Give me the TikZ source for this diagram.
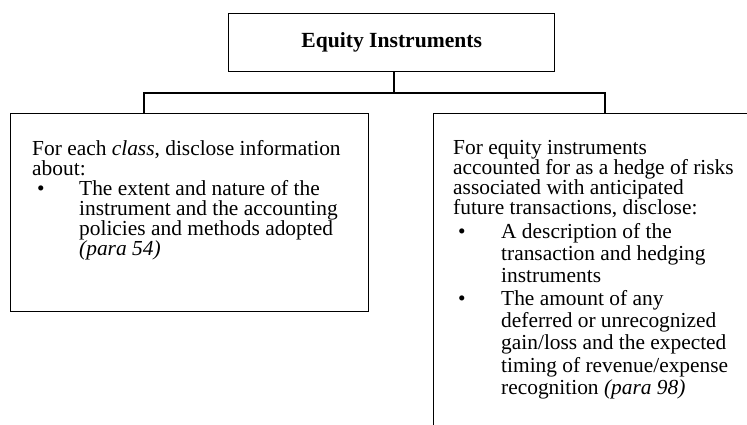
\documentclass[tikz,border=0pt]{standalone}
\usepackage{fontspec}
\setmainfont{Liberation Serif}
\newcommand{\bul}[1]{\makebox[#1][l]{\hspace{5pt}\textbullet}}
\tikzset{
  boxshape/.style={draw, line width=1.4pt, inner sep=0pt, anchor=north west},
  boxtext/.style={inner sep=0pt, anchor=north west, align=left, font=\fontsize{21.4}{20}\selectfont},
  link/.style={line width=1.4pt}
}
\begin{document}
\begin{tikzpicture}[x=1pt,y=-1pt]
\useasboundingbox (0,0) rectangle (747,424);
\clip (0,0) rectangle (747,424);
% top box
\node[boxshape, minimum width=326pt, minimum height=58pt] (top) at (228,13) {};
\node[font=\fontsize{21.6}{21.6}\selectfont\bfseries, inner sep=0pt] (toptext) at (top.center) {Equity Instruments};
% left box
\node[boxshape, minimum width=358pt, minimum height=198pt] (lbox) at (10,113) {};
\node[boxtext] (ltext) at (32,140) {For each \textit{class}, disclose information\\
about:\\
\bul{47pt}The extent and nature of the\\
\hspace*{47pt}instrument and the accounting\\
\hspace*{47pt}policies and methods adopted\\
\hspace*{47pt}\textit{(para 54)}};
% right box
\node[boxshape, minimum width=400pt, minimum height=400pt] (rbox) at (433,113) {};
\node[boxtext] (rtext) at (453,140) {For equity instruments\\
accounted for as a hedge of risks\\
associated with anticipated\\
future transactions, disclose:\\[4pt]
\bul{48pt}A description of the\\[2.3pt]
\hspace*{48pt}transaction and hedging\\[2.3pt]
\hspace*{48pt}instruments\\[2.3pt]
\bul{48pt}The amount of any\\[2.3pt]
\hspace*{48pt}deferred or unrecognized\\[2.3pt]
\hspace*{48pt}gain/loss and the expected\\[2.3pt]
\hspace*{48pt}timing of revenue/expense\\[2.3pt]
\hspace*{48pt}recognition \textit{(para 98)}};
% connectors
\coordinate (jm) at (394,93);
\coordinate (jl) at (144,93);
\coordinate (jr) at (605,93);
\draw[link] (top.south -| jm) -- (jm);
\draw[link] (jl |- lbox.north) -- (jl) -- (jr) -- (jr |- rbox.north);
\end{tikzpicture}
\end{document}
